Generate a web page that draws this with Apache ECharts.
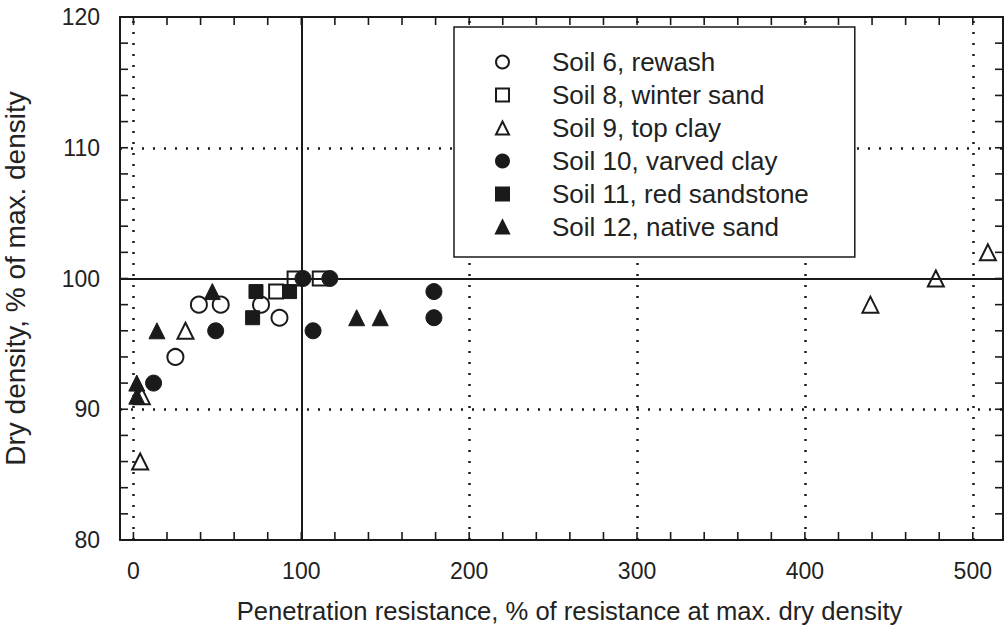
<!DOCTYPE html>
<html>
<head>
<meta charset="utf-8">
<script src="https://cdn.jsdelivr.net/npm/echarts@6/dist/echarts.min.js"></script>
<style>html,body{margin:0;padding:0;background:#fff}#c{width:1008px;height:629px}</style>
</head>
<body>
<div id="c"></div>
<script>
// ---- data ----
const seriesNames = ['Soil 6, rewash','Soil 8, winter sand','Soil 9, top clay','Soil 10, varved clay','Soil 11, red sandstone','Soil 12, native sand'];
const soil6  = [[25,94],[39,98],[52,98],[76,98],[87,97]];
const soil8  = [[85,99],[96,100],[111,100]];
const soil9  = [[4,86],[5,91],[31,96],[439,98],[478,100],[509,102]];
const soil10 = [[12,92],[49,96],[101,100],[107,96],[117,100],[179,99],[179,97]];
const soil11 = [[71,97],[73,99],[93,99]];
const soil12 = [[2,91],[2,92],[14,96],[47,99],[133,97],[147,97]];
const xTickLabels = [0,100,200,300,400,500];
const xMinorTicks = [0,20,40,60,80,100,120,140,160,180,200,220,240,260,280,300,320,340,360,380,400,420,440,460,480,500];
const yTickLabels = [80,90,100,110,120];
const yMinorTicks = [82,84,86,88,90,92,94,96,98,100,102,104,106,108,110,112,114,116,118];
const xDottedGrid = [0,200,300,400,500];
const yDottedGrid = [90,110];
const xSolidRef = [100];
const ySolidRef = [100];
const xRange = [-8,518];
const yRange = [80,120];

// ---- chart ----
const ink = '#1a1a1a';
const font = 'Liberation Sans, Arial, sans-serif';
const chart = echarts.init(document.getElementById('c'), null, {renderer:'svg'});

const symbols = ['circle','rect','triangle','circle','rect','triangle'];
const sizes = [16,14,16,16,14,16];
const filled = [false,false,false,true,true,true];
const datasets = [soil6,soil8,soil9,soil10,soil11,soil12];

const dotted = {type:[2,9], width:2.5, color:ink};
const solid = {type:'solid', width:2, color:ink};
const TICK = 8;

const series = datasets.map((d,i)=>({
  name: seriesNames[i], type:'scatter', data:d,
  symbol: symbols[i], symbolSize: sizes[i],
  itemStyle: filled[i] ? {color:ink, borderColor:ink, borderWidth:1, opacity:1}
                       : {color:'#fff', borderColor:ink, borderWidth:2, opacity:1},
  z: filled[i] ? 4 : 3
}));
series.unshift({
  name:'grid', type:'scatter', data:[], silent:true, z:1,
  markLine:{
    silent:true, symbol:['none','none'], label:{show:false}, animation:false,
    emphasis:{disabled:true},
    data: [
      ...xDottedGrid.map(v=>({xAxis:v, lineStyle:dotted})),
      ...yDottedGrid.map(v=>({yAxis:v, lineStyle:dotted})),
      ...xSolidRef.map(v=>({xAxis:v, lineStyle:solid})),
      ...ySolidRef.map(v=>({yAxis:v, lineStyle:solid}))
    ]
  }
});

const axLine = {show:true, onZero:false, lineStyle:{color:ink, width:2}};

chart.setOption({
  animation:false,
  backgroundColor:'#fff',
  grid:{left:120, right:5, top:17, bottom:89, containLabel:false, outerBoundsMode:'none'},
  legend:{
    data: seriesNames, orient:'vertical', left:454, top:27,
    padding:[22,46,17,41], itemWidth:13, itemHeight:13, itemGap:7,
    borderColor:ink, borderWidth:1.5, backgroundColor:'#fff',
    textStyle:{fontSize:26, color:'#222', fontFamily:font, padding:[0,0,0,38]},
    selectedMode:false, z:10
  },
  xAxis:[
    {type:'value', min:xRange[0], max:xRange[1], position:'bottom',
     axisLine:axLine, axisTick:{show:false}, splitLine:{show:false},
     axisLabel:{show:true, customValues:xTickLabels, fontSize:23, color:'#222', fontFamily:font, margin:19},
     name:'Penetration resistance, % of resistance at max. dry density', nameLocation:'middle', nameGap:58,
     nameTextStyle:{fontSize:25.6, color:'#222', fontFamily:font, padding:[0,0,0,16]}},
    {type:'value', min:xRange[0], max:xRange[1], position:'top',
     axisLine:axLine, axisTick:{show:false}, splitLine:{show:false}, axisLabel:{show:false}}
  ],
  yAxis:[
    {type:'value', min:yRange[0], max:yRange[1], position:'left',
     axisLine:axLine, axisTick:{show:false}, splitLine:{show:false},
     axisLabel:{show:true, customValues:yTickLabels, fontSize:23, color:'#222', fontFamily:font, margin:20},
     name:'Dry density, % of max. density', nameLocation:'middle', nameGap:91,
     nameTextStyle:{fontSize:28, color:'#222', fontFamily:font}},
    {type:'value', min:yRange[0], max:yRange[1], position:'right',
     axisLine:axLine, axisTick:{show:false}, splitLine:{show:false}, axisLabel:{show:false}}
  ],
  series: series
});

// inward ticks on all four sides, placed through the chart's own axis scales
const tickEls = [];
const tStyle = {stroke:ink, lineWidth:1.6};
xMinorTicks.forEach(v=>{
  const b = chart.convertToPixel({gridIndex:0}, [v, yRange[0]]);
  const t = chart.convertToPixel({gridIndex:0}, [v, yRange[1]]);
  tickEls.push({type:'line', silent:true, z:5, shape:{x1:b[0], y1:b[1], x2:b[0], y2:b[1]-TICK}, style:tStyle});
  tickEls.push({type:'line', silent:true, z:5, shape:{x1:t[0], y1:t[1], x2:t[0], y2:t[1]+TICK}, style:tStyle});
});
yMinorTicks.forEach(v=>{
  const l = chart.convertToPixel({gridIndex:0}, [xRange[0], v]);
  const r = chart.convertToPixel({gridIndex:0}, [xRange[1], v]);
  tickEls.push({type:'line', silent:true, z:5, shape:{x1:l[0], y1:l[1], x2:l[0]+TICK, y2:l[1]}, style:tStyle});
  tickEls.push({type:'line', silent:true, z:5, shape:{x1:r[0], y1:r[1], x2:r[0]-TICK, y2:r[1]}, style:tStyle});
});
chart.setOption({graphic:{elements:tickEls}});
</script>
</body>
</html>
